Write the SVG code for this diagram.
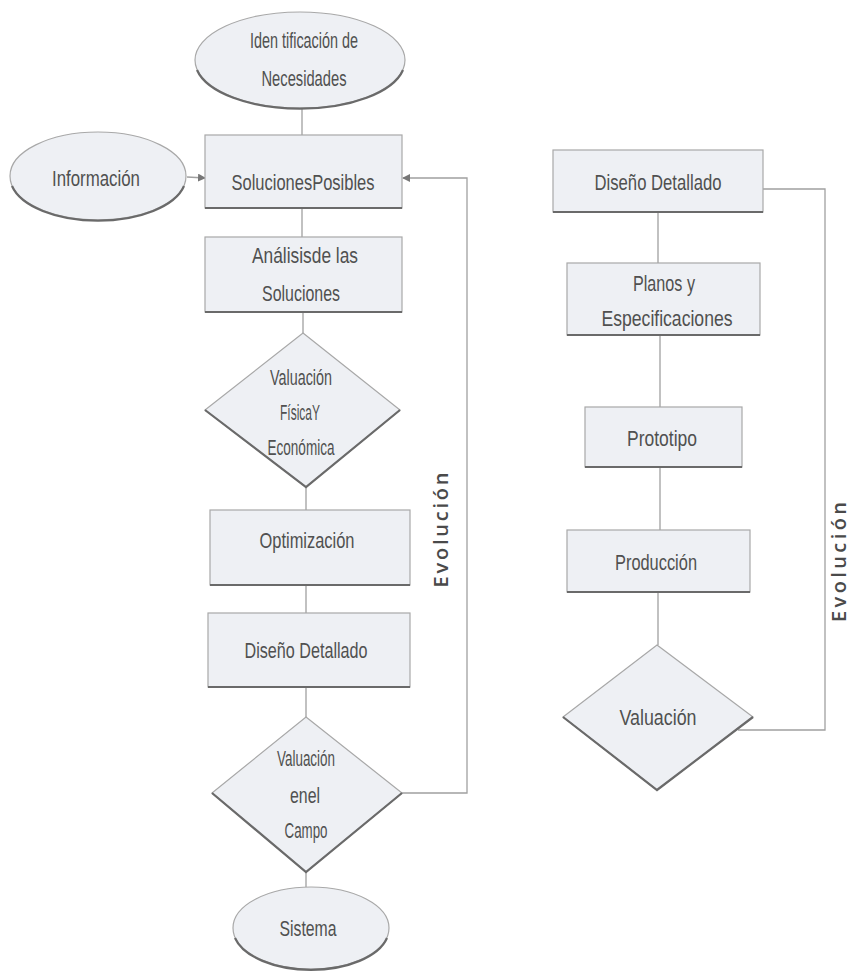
<svg xmlns="http://www.w3.org/2000/svg" width="853" height="975" viewBox="0 0 853 975">
<defs>
<marker id="arr" markerWidth="8" markerHeight="8" refX="7" refY="4" orient="auto" markerUnits="userSpaceOnUse">
<path d="M0,0 L8,4 L0,8 Z" fill="#777"/>
</marker>
</defs>
<style>
.shape{fill:#eef0f4;stroke:#a8a8a8;stroke-width:1.2}
.shadow{fill:none;stroke:#6a6a6a;stroke-width:2.2}
.lbl{font-family:"Liberation Sans","DejaVu Sans",sans-serif;font-size:22px;fill:#505050;text-anchor:middle;dominant-baseline:central}
.evo{font-family:"Open Sans","DejaVu Sans",sans-serif;font-size:20px;font-weight:600;fill:#4a4a4a;text-anchor:middle;dominant-baseline:central}
.con{fill:none;stroke:#a0a0a0;stroke-width:1.3}
</style>
<rect width="853" height="975" fill="#ffffff"/>

<g id="connectors">
<line class="con" x1="302" y1="108" x2="302" y2="135"/>
<line class="con" x1="302" y1="208" x2="302" y2="237"/>
<line class="con" x1="303" y1="312" x2="303" y2="333"/>
<line class="con" x1="306" y1="487" x2="306" y2="510"/>
<line class="con" x1="306" y1="585" x2="306" y2="613"/>
<line class="con" x1="306" y1="687" x2="306" y2="717"/>
<line class="con" x1="306" y1="872" x2="306" y2="887"/>
<line class="con" x1="187" y1="177" x2="205" y2="178" marker-end="url(#arr)"/>
<polyline class="con" points="402,793 467,793 467,178 403,178" marker-end="url(#arr)"/>
<line class="con" x1="658" y1="212" x2="658" y2="263"/>
<line class="con" x1="660" y1="335" x2="660" y2="407"/>
<line class="con" x1="660" y1="467" x2="660" y2="530"/>
<line class="con" x1="658" y1="592" x2="658" y2="645"/>
<polyline class="con" points="763,189 825,189 825,730 738,730"/>
<text class="evo" transform="translate(440,530) rotate(-90)" textLength="115" lengthAdjust="spacing">Evolución</text>
<text class="evo" transform="translate(838,562) rotate(-90)" textLength="120" lengthAdjust="spacing">Evolución</text>
</g>

<g id="identificacion">
<ellipse class="shape" cx="300" cy="60" rx="105" ry="48"/>
<path class="shadow" d="M197,70 A105,48 0 0 0 403,70"/>
<text class="lbl" x="304" y="40" textLength="108" lengthAdjust="spacingAndGlyphs">Iden tificación de</text>
<text class="lbl" x="304" y="78" textLength="85" lengthAdjust="spacingAndGlyphs">Necesidades</text>
</g>

<g id="informacion">
<ellipse class="shape" cx="98" cy="176" rx="88" ry="44"/>
<path class="shadow" d="M12,186 A88,44 0 0 0 184,186"/>
<text class="lbl" x="96" y="178" textLength="88" lengthAdjust="spacingAndGlyphs">Información</text>
</g>

<g id="soluciones-posibles">
<rect class="shape" x="205" y="135" width="197" height="73"/>
<line class="shadow" x1="205" y1="208" x2="402" y2="208"/>
<text class="lbl" x="303" y="182" textLength="143" lengthAdjust="spacingAndGlyphs">SolucionesPosibles</text>
</g>

<g id="analisis">
<rect class="shape" x="205" y="237" width="197" height="75"/>
<line class="shadow" x1="205" y1="312" x2="402" y2="312"/>
<text class="lbl" x="305" y="255" textLength="106" lengthAdjust="spacingAndGlyphs">Análisisde las</text>
<text class="lbl" x="301" y="293" textLength="78" lengthAdjust="spacingAndGlyphs">Soluciones</text>
</g>

<g id="valuacion-fisica">
<polygon class="shape" points="303,333 400,410 306,487 205,410"/>
<polyline class="shadow" points="205,410 306,487 400,410"/>
<text class="lbl" x="301" y="377" textLength="62" lengthAdjust="spacingAndGlyphs">Valuación</text>
<text class="lbl" x="300" y="412" textLength="40" lengthAdjust="spacingAndGlyphs">FísicaY</text>
<text class="lbl" x="301" y="447" textLength="67" lengthAdjust="spacingAndGlyphs">Económica</text>
</g>

<g id="optimizacion">
<rect class="shape" x="210" y="510" width="200" height="75"/>
<line class="shadow" x1="210" y1="585" x2="410" y2="585"/>
<text class="lbl" x="307" y="540" textLength="95" lengthAdjust="spacingAndGlyphs">Optimización</text>
</g>

<g id="diseno-detallado-1">
<rect class="shape" x="208" y="613" width="202" height="74"/>
<line class="shadow" x1="208" y1="687" x2="410" y2="687"/>
<text class="lbl" x="306" y="650" textLength="123" lengthAdjust="spacingAndGlyphs">Diseño Detallado</text>
</g>

<g id="valuacion-campo">
<polygon class="shape" points="306,717 402,793 306,872 212,793"/>
<polyline class="shadow" points="212,793 306,872 402,793"/>
<text class="lbl" x="306" y="758" textLength="58" lengthAdjust="spacingAndGlyphs">Valuación</text>
<text class="lbl" x="305" y="795" textLength="30" lengthAdjust="spacingAndGlyphs">enel</text>
<text class="lbl" x="306" y="830" textLength="43" lengthAdjust="spacingAndGlyphs">Campo</text>
</g>

<g id="sistema">
<ellipse class="shape" cx="311" cy="928" rx="78" ry="41"/>
<path class="shadow" d="M235,938 A78,41 0 0 0 387,938"/>
<text class="lbl" x="308" y="928" textLength="57" lengthAdjust="spacingAndGlyphs">Sistema</text>
</g>

<g id="diseno-detallado-2">
<rect class="shape" x="553" y="150" width="210" height="62"/>
<line class="shadow" x1="553" y1="212" x2="763" y2="212"/>
<text class="lbl" x="658" y="182" textLength="127" lengthAdjust="spacingAndGlyphs">Diseño Detallado</text>
</g>

<g id="planos">
<rect class="shape" x="567" y="263" width="193" height="72"/>
<line class="shadow" x1="567" y1="335" x2="760" y2="335"/>
<text class="lbl" x="664" y="283" textLength="62" lengthAdjust="spacingAndGlyphs">Planos y</text>
<text class="lbl" x="667" y="318" textLength="131" lengthAdjust="spacingAndGlyphs">Especificaciones</text>
</g>

<g id="prototipo">
<rect class="shape" x="585" y="407" width="157" height="60"/>
<line class="shadow" x1="585" y1="467" x2="742" y2="467"/>
<text class="lbl" x="662" y="438" textLength="70" lengthAdjust="spacingAndGlyphs">Prototipo</text>
</g>

<g id="produccion">
<rect class="shape" x="567" y="530" width="183" height="62"/>
<line class="shadow" x1="567" y1="592" x2="750" y2="592"/>
<text class="lbl" x="656" y="562" textLength="82" lengthAdjust="spacingAndGlyphs">Producción</text>
</g>

<g id="valuacion">
<polygon class="shape" points="657,645 753,717 657,790 563,717"/>
<polyline class="shadow" points="563,717 657,790 753,717"/>
<text class="lbl" x="658" y="717" textLength="77" lengthAdjust="spacingAndGlyphs">Valuación</text>
</g>
</svg>
